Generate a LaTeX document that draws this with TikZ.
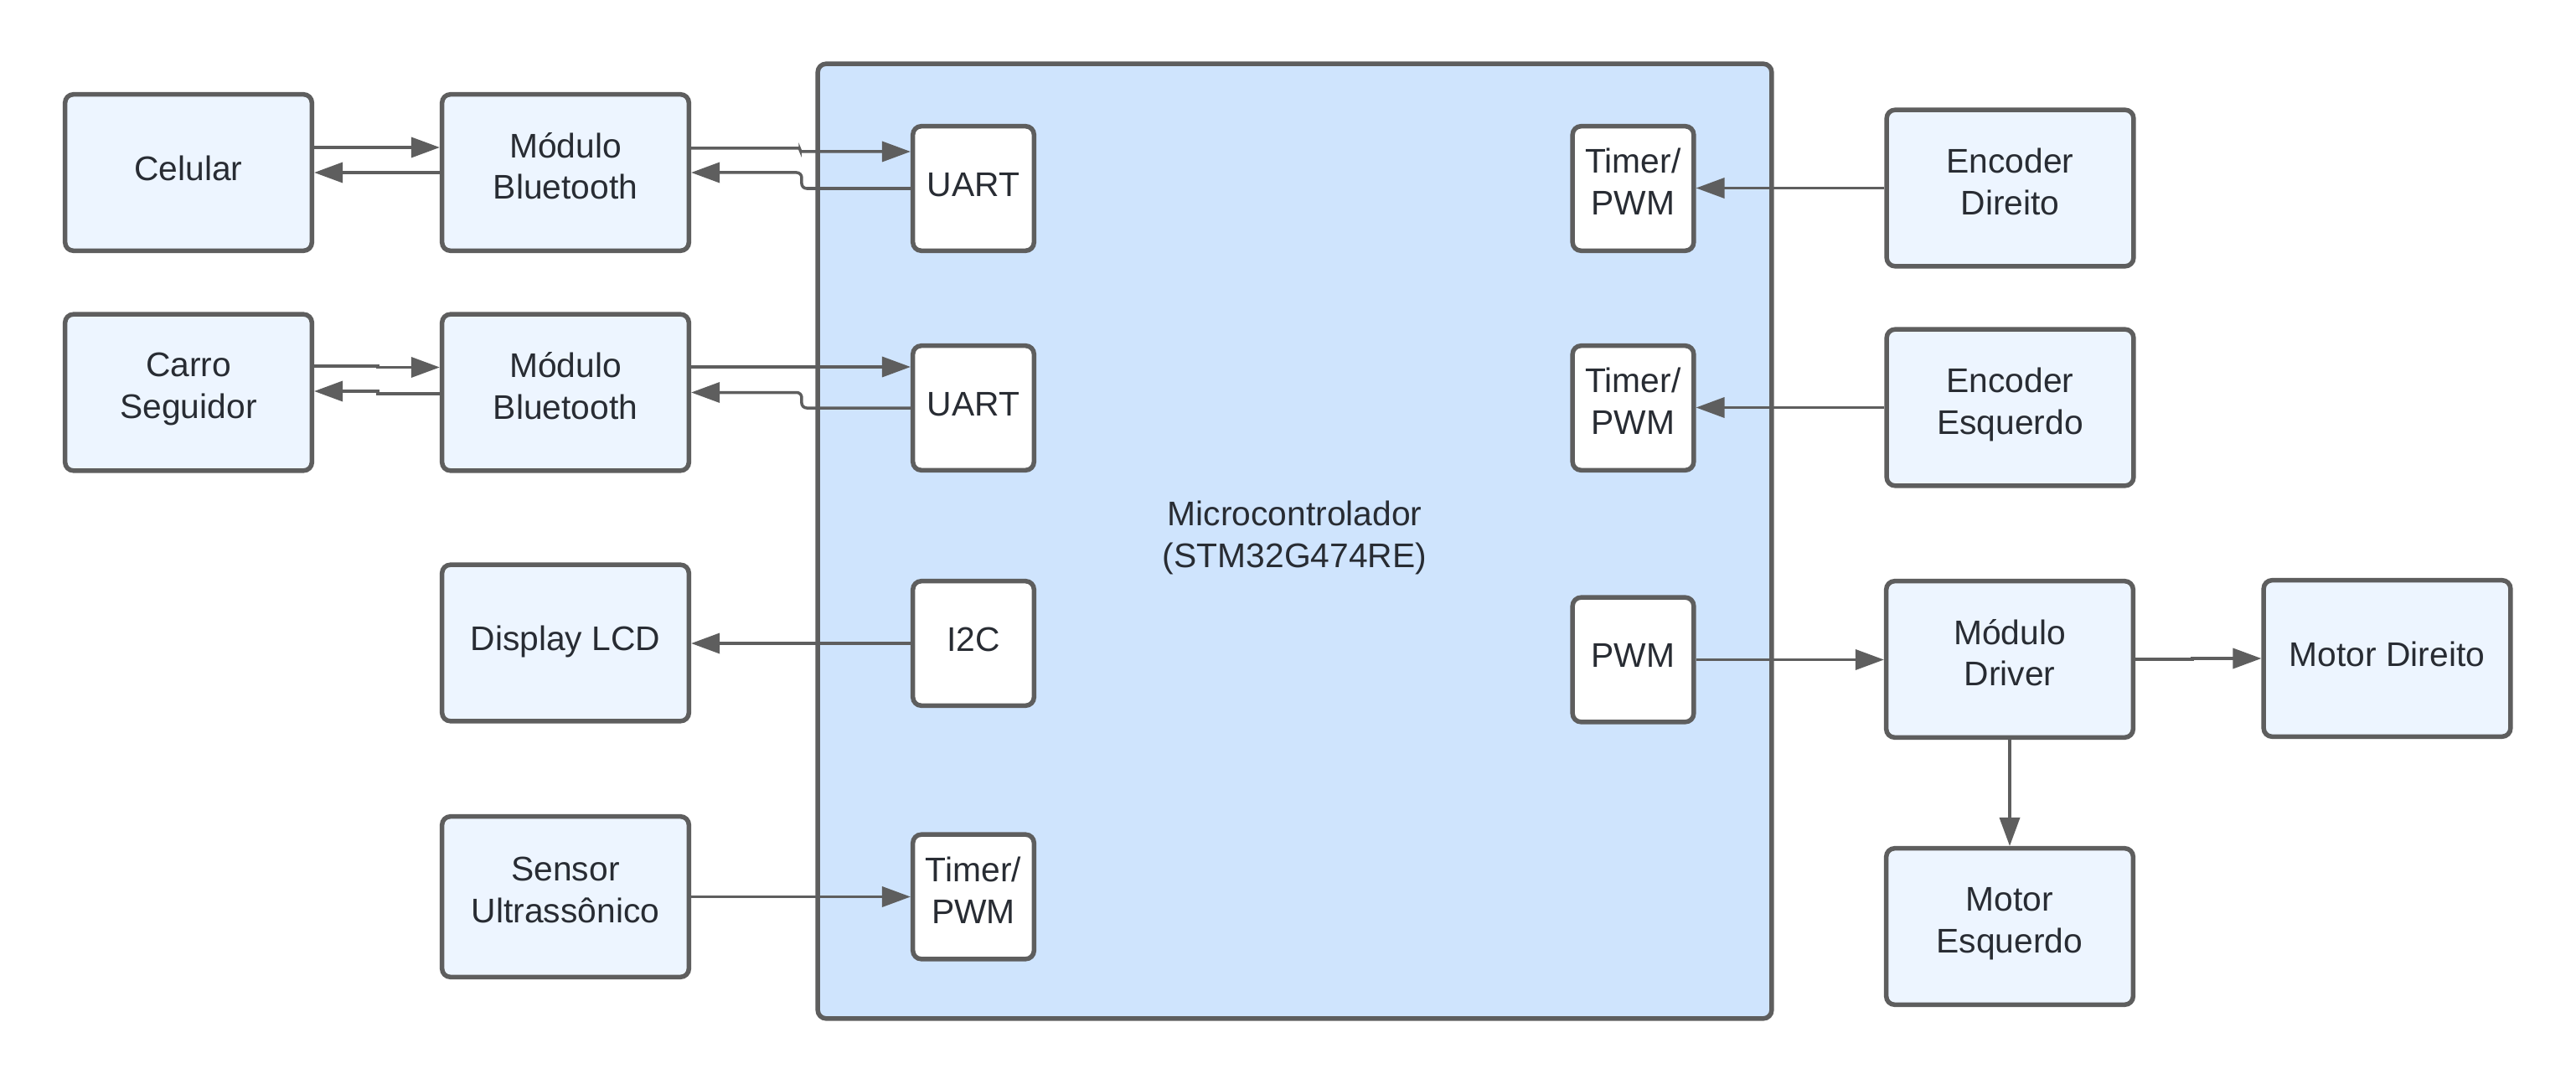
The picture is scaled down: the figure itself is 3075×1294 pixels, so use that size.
\documentclass[tikz,border=0pt]{standalone}
\usepackage{fontspec}
\setmainfont{Liberation Sans}
\usetikzlibrary{arrows.meta,calc}
\definecolor{edge}{HTML}{5E5E5E}
\definecolor{boxfill}{HTML}{EDF5FF}
\definecolor{mcufill}{HTML}{CFE4FD}
\definecolor{txt}{HTML}{282C33}
\newcommand\lnstrut{\rule[-0.16cm]{0pt}{0.5cm}}
\begin{document}
\begin{tikzpicture}[x=0.01cm,y=-0.01cm,
  base/.style={draw=edge, line width=0.055cm, rounded corners=0.1cm, text=txt, align=center, inner sep=0pt,
    font=\fontsize{11.6}{14.2}\selectfont,
    execute at begin node={\lnstrut}, execute at end node={\lnstrut}},
  outerbox/.style={base, fill=boxfill, minimum width=2.945cm, minimum height=1.865cm},
  innerbox/.style={base, fill=white, minimum width=1.445cm, minimum height=1.485cm},
  mcubox/.style={base, fill=mcufill, minimum width=11.38cm, minimum height=11.39cm},
  conn/.style={draw=edge, line width=0.035cm, -{Triangle[length=0.34cm,width=0.24cm]}},
]
\useasboundingbox (0,0) rectangle (3075,1294);
\fill[white] (0,0) rectangle (3075,1294);

% microcontroller
\node[mcubox] (mcu) at (1545.5,646) {Microcontrolador\\(STM32G474RE)};

% outer blocks
\node[outerbox] (cel) at (225,206) {Celular};
\node[outerbox] (bt1) at (675,206) {Módulo\\Bluetooth};
\node[outerbox] (car) at (225,468.5) {Carro\\Seguidor};
\node[outerbox] (bt2) at (675,468.5) {Módulo\\Bluetooth};
\node[outerbox] (lcd) at (675,767.5) {Display LCD};
\node[outerbox, minimum height=1.915cm] (sen) at (675,1070.5) {Sensor\\Ultrassônico};
\node[outerbox] (encD) at (2399.5,224.5) {Encoder\\Direito};
\node[outerbox] (encE) at (2399.5,486.5) {Encoder\\Esquerdo};
\node[outerbox] (drv) at (2399,787) {Módulo\\Driver};
\node[outerbox] (motD) at (2849.5,786) {Motor Direito};
\node[outerbox] (motE) at (2399,1106) {Motor\\Esquerdo};

% inner blocks
\node[innerbox] (uart1) at (1162,225) {UART};
\node[innerbox] (uart2) at (1162,487) {UART};
\node[innerbox] (i2c) at (1162,768) {I2C};
\node[innerbox] (tim3) at (1162,1070.5) {Timer/\\PWM};
\node[innerbox] (tim1) at (1949.5,225) {Timer/\\PWM};
\node[innerbox] (tim2) at (1949.5,487) {Timer/\\PWM};
\node[innerbox] (pwm) at (1949.5,787.5) {PWM};

% connectors
\coordinate (c1) at ([yshift=0.3cm]cel.east);
\draw[conn] (c1) -- (c1 -| bt1.west);
\draw[conn] (bt1.west) -- (bt1.west -| cel.east);

\coordinate (b1) at ([yshift=0.29cm]bt1.east);
\coordinate (u1) at ([yshift=0.44cm]uart1.west);
\draw[conn, rounded corners=0.02cm] (b1) -- ++(130,0) |- (u1);
\draw[conn, rounded corners=0.06cm] (uart1.west) -- ++(-130,0) |- (bt1.east);

\coordinate (c2) at ([yshift=0.315cm]car.east);
\coordinate (c2e) at ([yshift=0.30cm]bt2.west);
\draw[conn] (c2) -- ++(76,0) |- (c2e);
\coordinate (b2w) at ([yshift=-0.015cm]bt2.west);
\coordinate (c2w) at ([yshift=0.015cm]car.east);
\draw[conn] (b2w) -- ++(-74,0) |- (c2w);

\coordinate (b2) at ([yshift=0.305cm]bt2.east);
\draw[conn] (b2) -- (b2 -| uart2.west);
\draw[conn, rounded corners=0.06cm] (uart2.west) -- ++(-130,0) |- (bt2.east);

\draw[conn] (encD.west) -- (encD.west -| tim1.east);
\draw[conn] (encE.west) -- (encE.west -| tim2.east);
\draw[conn] (i2c.west) -- (i2c.west -| lcd.east);
\draw[conn] (sen.east) -- (sen.east -| tim3.west);
\draw[conn] (pwm.east) -- (pwm.east -| drv.west);
\draw[conn] (drv.east) -- ++(68,0) |- (motD.west);
\draw[conn] (drv.south) -- (motE.north);
\end{tikzpicture}
\end{document}
